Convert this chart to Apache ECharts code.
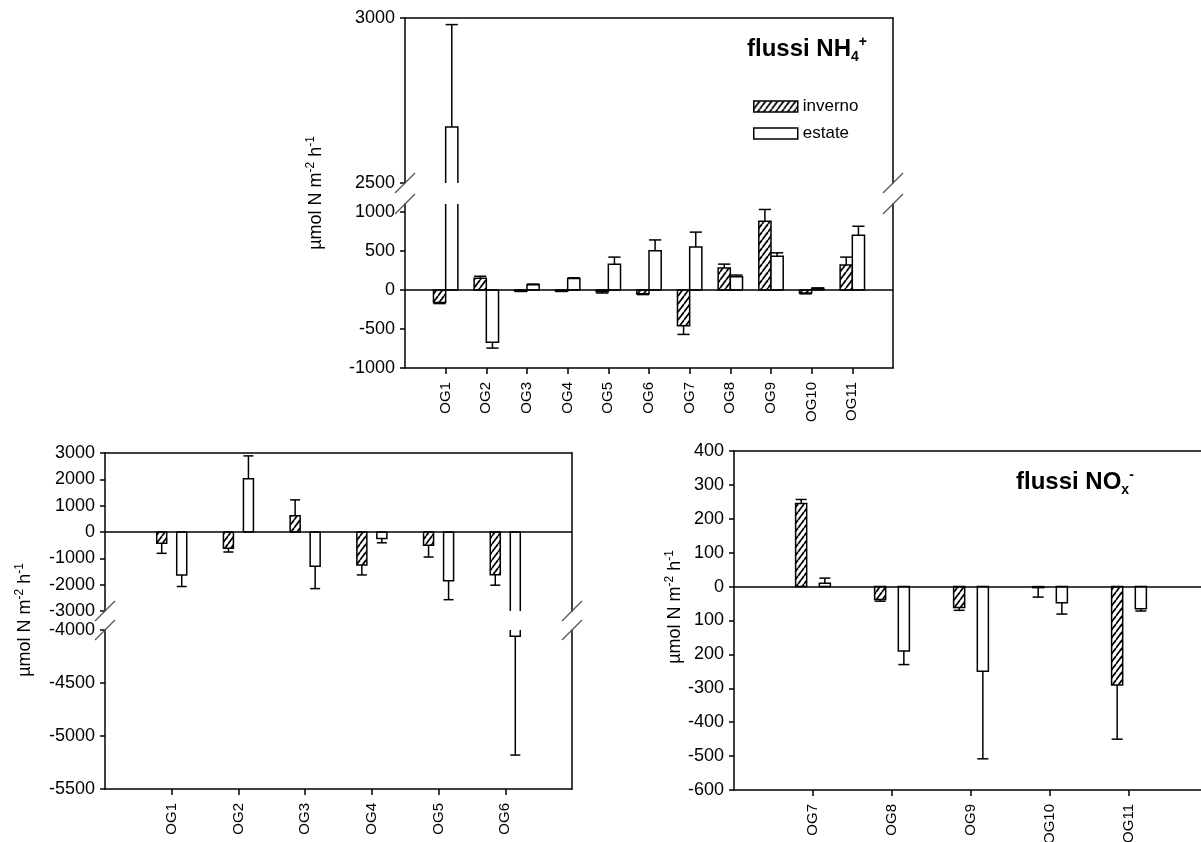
<!DOCTYPE html>
<html>
<head>
<meta charset="utf-8">
<script src="https://cdn.jsdelivr.net/npm/echarts@6/dist/echarts.min.js"></script>
<style>
    html, body { margin: 0; padding: 0; background: #fff; }
    #main { width: 1201px; height: 842px; }
</style>
</head>
<body>
<div id="main"></div>
<script>
// flussi NH4+ (OG1 - OG11)
var nhCats = ['OG1', 'OG2', 'OG3', 'OG4', 'OG5', 'OG6', 'OG7', 'OG8', 'OG9', 'OG10', 'OG11'];
var nhInverno = [-160, 150, -15, -15, -25, -50, -460, 280, 880, -40, 320];
var nhInvernoErr = [15, 25, 5, 5, 15, 10, 110, 50, 150, 10, 100];
var nhEstate = [2670, -670, 65, 145, 330, 500, 550, 170, 430, 20, 700];
var nhEstateErr = [310, 75, 10, 10, 90, 140, 190, 20, 45, 5, 115];

// flussi NOx- (OG1 - OG6)
var noxCatsA = ['OG1', 'OG2', 'OG3', 'OG4', 'OG5', 'OG6'];
var noxInvernoA = [-430, -620, 620, -1250, -500, -1620];
var noxInvernoErrA = [380, 140, 600, 380, 450, 400];
var noxEstateA = [-1630, 2020, -1300, -250, -1850, -4060];
var noxEstateErrA = [440, 870, 850, 160, 720, 1120];

// flussi NOx- (OG7 - OG11)
var noxCatsB = ['OG7', 'OG8', 'OG9', 'OG10', 'OG11'];
var noxInvernoB = [245, -38, -62, -3, -290];
var noxInvernoErrB = [12, 5, 8, 28, 160];
var noxEstateB = [10, -190, -250, -48, -65];
var noxEstateErrB = [15, 40, 258, 33, 7];

// tick labels
var nhTicksLow = [-1000, -500, 0, 500, 1000];
var noxTicksB = [-600, -500, -400, -300, -200, -100, 0, 100, 200, 300, 400];
var noxTickLabelsB = ['-600', '-500', '-400', '-300', '200', '100', '0', '100', '200', '300', '400'];

var FONT = 'Liberation Sans, Arial, sans-serif';

function makeHatch() {
    var c = document.createElement('canvas');
    var w = 6, h = 8;
    c.width = w;
    c.height = h;
    var ctx = c.getContext('2d');
    ctx.fillStyle = '#fff';
    ctx.fillRect(0, 0, w, h);
    ctx.strokeStyle = '#000';
    ctx.lineWidth = 1.7;
    for (var k = -1; k <= 1; k++) {
        ctx.beginPath();
        ctx.moveTo(k * w, h);
        ctx.lineTo(k * w + w, 0);
        ctx.stroke();
    }
    return c;
}
var hatch = { image: makeHatch(), repeat: 'repeat' };

function axisCats(cats) {
    return [''].concat(cats).concat(['']);
}

function toData(cats, vals, errs) {
    return cats.map(function (c, i) { return [c, vals[i], errs[i]]; });
}

// one bar + one-sided error bar
function barItem(offset, widthFrac, fill) {
    return function (params, api) {
        var i = api.value(0), v = api.value(1), e = api.value(2);
        var band = api.size([1, 0])[0];
        var w = band * widthFrac;
        var p0 = api.coord([i, 0]);
        var p1 = api.coord([i, v]);
        var p2 = api.coord([i, v >= 0 ? v + e : v - e]);
        var cx = p0[0] + band * offset;
        var ln = { stroke: '#000', lineWidth: 1.5 };
        return {
            type: 'group',
            children: [
                { type: 'line', shape: { x1: cx, y1: p1[1], x2: cx, y2: p2[1] }, style: ln },
                { type: 'line', shape: { x1: cx - w / 2, y1: p2[1], x2: cx + w / 2, y2: p2[1] }, style: ln },
                {
                    type: 'rect',
                    shape: { x: cx - w / 2, y: Math.min(p0[1], p1[1]), width: w, height: Math.abs(p1[1] - p0[1]) },
                    style: { fill: fill, stroke: '#000', lineWidth: 1.5 }
                }
            ]
        };
    };
}

// axis break slash
function breakItem(params, api) {
    var p = api.coord([api.value(0), api.value(1)]);
    return {
        type: 'line',
        shape: { x1: p[0] - 10, y1: p[1] + 10, x2: p[0] + 10, y2: p[1] - 10 },
        style: { stroke: '#555', lineWidth: 1.2 }
    };
}

var lineStyle = { color: '#000', width: 1.5 };

function xBottom(grid, cats) {
    return {
        type: 'category', gridIndex: grid, position: 'bottom', data: axisCats(cats), boundaryGap: false,
        axisLine: { show: true, onZero: false, lineStyle: lineStyle },
        axisTick: { show: true, length: 6, lineStyle: lineStyle, interval: function (idx, val) { return val !== ''; } },
        axisLabel: { interval: 0, rotate: 90, margin: 14, color: '#000', fontSize: 15, fontFamily: FONT },
        splitLine: { show: false }
    };
}
function xTop(grid, cats) {
    return {
        type: 'category', gridIndex: grid, position: 'top', data: axisCats(cats), boundaryGap: false,
        axisLine: { show: true, onZero: false, lineStyle: lineStyle },
        axisTick: { show: false }, axisLabel: { show: false }, splitLine: { show: false }
    };
}
function yLeft(grid, min, max, interval) {
    return {
        type: 'value', gridIndex: grid, position: 'left', min: min, max: max, interval: interval,
        axisLine: { show: true, onZero: false, lineStyle: lineStyle },
        axisTick: { show: true, length: 5, lineStyle: lineStyle },
        axisLabel: {
            margin: 10, color: '#000', fontSize: 18, fontFamily: FONT,
            formatter: function (v) { return String(v); }
        },
        splitLine: { show: false }
    };
}
function yRight(grid, min, max) {
    return {
        type: 'value', gridIndex: grid, position: 'right', min: min, max: max,
        axisLine: { show: true, onZero: false, lineStyle: lineStyle },
        axisTick: { show: false }, axisLabel: { show: false }, splitLine: { show: false }
    };
}

function barSeries(name, xi, yi, data, offset, widthFrac, fill, zero) {
    var s = {
        name: name, type: 'custom', xAxisIndex: xi, yAxisIndex: yi, clip: true,
        renderItem: barItem(offset, widthFrac, fill),
        itemStyle: { color: '#fff', borderColor: '#000' },
        encode: { x: 0, y: 1 },
        data: data
    };
    if (zero) {
        s.markLine = {
            silent: true, symbol: 'none', label: { show: false },
            lineStyle: { color: '#000', type: 'solid', width: 1.5 },
            data: [{ yAxis: 0 }]
        };
    }
    return s;
}
function breakSeries(xi, yi, n, val) {
    return {
        type: 'custom', xAxisIndex: xi, yAxisIndex: yi, silent: true, z: 10,
        renderItem: breakItem,
        data: [[0, val], [n + 1, val]]
    };
}

function unitName(x, y) {
    return {
        type: 'text', x: x, y: y, rotation: Math.PI / 2,
        style: {
            text: '{a|\u00b5mol N m}{s|-2}{a| h}{s|-1}',
            align: 'center', verticalAlign: 'middle', fill: '#000',
            rich: {
                a: { fontSize: 18, fontFamily: FONT, fill: '#000' },
                s: { fontSize: 12, fontFamily: FONT, fill: '#000', padding: [0, 0, 10, 0] }
            }
        }
    };
}

var titleRich = {
    a: { fontSize: 24, fontWeight: 'bold', fontFamily: FONT, color: '#000' },
    sub: { fontSize: 14, fontWeight: 'bold', fontFamily: FONT, color: '#000', padding: [15, 0, 0, 0] },
    sup: { fontSize: 14, fontWeight: 'bold', fontFamily: FONT, color: '#000', padding: [0, 0, 15, 0] }
};

var myChart = echarts.init(document.getElementById('main'));

var option = {
    animation: false,
    backgroundColor: '#fff',
    title: [
        { text: '{a|flussi NH}{sub|4}{sup|+}', left: 742, top: 30, textStyle: { rich: titleRich } },
        { text: '{a|flussi NO}{sub|x}{sup|-}', left: 1011, top: 463, textStyle: { rich: titleRich } }
    ],
    legend: {
        left: 748, top: 93, orient: 'vertical', icon: 'rect',
        itemWidth: 44, itemHeight: 11, itemGap: 10, selectedMode: false,
        textStyle: { fontSize: 17, color: '#000', fontFamily: FONT },
        data: [
            { name: 'inverno', itemStyle: { color: hatch, borderColor: '#000', borderWidth: 1.5 } },
            { name: 'estate', itemStyle: { color: '#fff', borderColor: '#000', borderWidth: 1.5 } }
        ]
    },
    grid: [
        { left: 405, top: 18, width: 488, height: 165, outerBoundsMode: 'none' },
        { left: 405, top: 204, width: 488, height: 164, outerBoundsMode: 'none' },
        { left: 105, top: 453, width: 467, height: 158, outerBoundsMode: 'none' },
        { left: 105, top: 630, width: 467, height: 159, outerBoundsMode: 'none' },
        { left: 734, top: 451, width: 474, height: 339, outerBoundsMode: 'none' }
    ],
    xAxis: [
        xTop(0, nhCats),
        xBottom(1, nhCats),
        xTop(2, noxCatsA),
        xBottom(3, noxCatsA),
        xBottom(4, noxCatsB),
        xTop(4, noxCatsB)
    ],
    yAxis: [
        yLeft(0, 2500, 3000, 500),
        yRight(0, 2500, 3000),
        (function () {
            var a = yLeft(1, -1000, 1100, 500);
            a.axisTick.customValues = nhTicksLow;
            a.axisLabel.customValues = nhTicksLow;
            return a;
        })(),
        yRight(1, -1000, 1100),
        yLeft(2, -3000, 3000, 1000),
        yRight(2, -3000, 3000),
        yLeft(3, -5500, -4000, 500),
        yRight(3, -5500, -4000),
        (function () {
            var a = yLeft(4, -600, 400, 100);
            a.axisLabel.formatter = function (v) {
                var k = noxTicksB.indexOf(v);
                return k >= 0 ? noxTickLabelsB[k] : '';
            };
            return a;
        })(),
        yRight(4, -600, 400)
    ],
    graphic: [
        unitName(316, 193),
        unitName(25, 620),
        unitName(675, 607)
    ],
    series: [
        // NH4+ upper and lower segments
        barSeries('inverno', 0, 0, toData(nhCats, nhInverno, nhInvernoErr), -0.15, 0.3, hatch),
        barSeries('estate', 0, 0, toData(nhCats, nhEstate, nhEstateErr), 0.15, 0.3, '#fff'),
        barSeries('inverno', 1, 2, toData(nhCats, nhInverno, nhInvernoErr), -0.15, 0.3, hatch),
        barSeries('estate', 1, 2, toData(nhCats, nhEstate, nhEstateErr), 0.15, 0.3, '#fff', true),
        breakSeries(0, 0, nhCats.length, 2500),
        breakSeries(1, 2, nhCats.length, 1100),

        // NOx- OG1-OG6 upper and lower segments
        barSeries('inverno', 2, 4, toData(noxCatsA, noxInvernoA, noxInvernoErrA), -0.15, 0.15, hatch),
        barSeries('estate', 2, 4, toData(noxCatsA, noxEstateA, noxEstateErrA), 0.15, 0.15, '#fff', true),
        barSeries('inverno', 3, 6, toData(noxCatsA, noxInvernoA, noxInvernoErrA), -0.15, 0.15, hatch),
        barSeries('estate', 3, 6, toData(noxCatsA, noxEstateA, noxEstateErrA), 0.15, 0.15, '#fff'),
        breakSeries(2, 4, noxCatsA.length, -3000),
        breakSeries(3, 6, noxCatsA.length, -4000),

        // NOx- OG7-OG11
        barSeries('inverno', 4, 8, toData(noxCatsB, noxInvernoB, noxInvernoErrB), -0.15, 0.14, hatch),
        barSeries('estate', 4, 8, toData(noxCatsB, noxEstateB, noxEstateErrB), 0.15, 0.14, '#fff', true)
    ]
};

myChart.setOption(option);
</script>
</body>
</html>
